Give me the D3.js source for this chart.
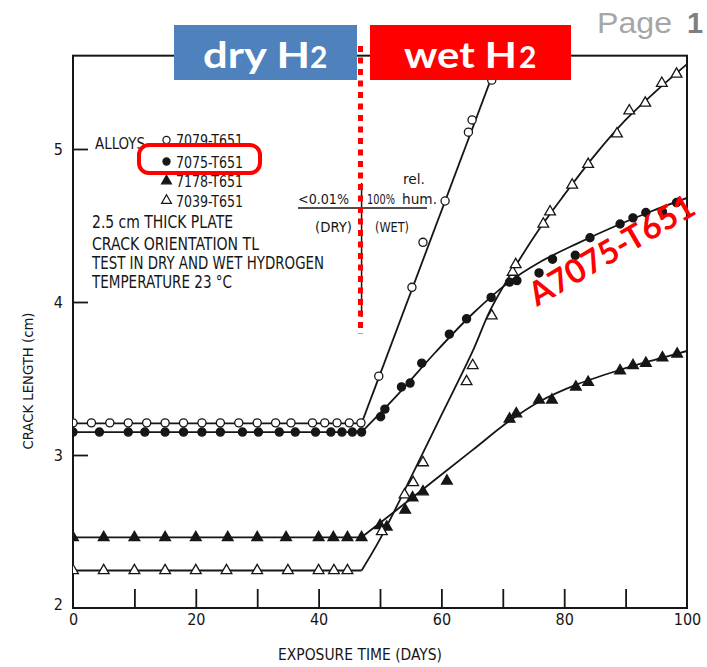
<!DOCTYPE html>
<html>
<head>
<meta charset="utf-8">
<script src="https://cdn.jsdelivr.net/npm/d3@7"></script>
<style>
  body { margin: 0; background: #fff; }
  svg { display: block; }
</style>
</head>
<body>
<svg id="chart" width="707" height="667"></svg>
<script>
// ---- data ----
const xLabelTicks = [0, 20, 40, 60, 80, 100]
const xMinorTicks = [10, 20, 30, 40, 50, 60, 70, 80, 90]
const yLabelTicks = [2, 3, 4, 5]
const yMinorTicks = [3, 4, 5]

const alloyNames = ['7079-T651', '7075-T651', '7178-T651', '7039-T651']
const noteLines = ['2.5 cm  THICK PLATE', 'CRACK ORIENTATION TL', 'TEST IN DRY AND WET HYDROGEN', 'TEMPERATURE 23 \u00B0C']

// [days, crack length cm]
const pts7079 = [[0, 3.21], [3, 3.21], [6, 3.21], [9, 3.21], [12, 3.21], [15, 3.21], [18, 3.21], [21, 3.21],
  [24, 3.21], [27, 3.21], [30, 3.21], [33, 3.21], [35.5, 3.21], [39, 3.21], [41, 3.21], [43, 3.21], [45, 3.21],
  [46.9, 3.21], [49.8, 3.515], [55.2, 4.096], [57.0, 4.39], [60.6, 4.66], [64.4, 5.11], [65.0, 5.19], [68.2, 5.45]]
const pts7075 = [[0, 3.15], [4.3, 3.15], [9, 3.15], [11.7, 3.15], [15, 3.15], [18, 3.15], [21, 3.15], [24, 3.15],
  [27.6, 3.15], [30.2, 3.15], [33.6, 3.15], [36.2, 3.15], [39.5, 3.15], [42, 3.15], [43.8, 3.15], [45.5, 3.15],
  [47, 3.15], [50.1, 3.25], [50.8, 3.30], [53.5, 3.445], [54.9, 3.47], [56.8, 3.60], [61.3, 3.79], [64.1, 3.89],
  [68.1, 4.03], [71.1, 4.13], [72.3, 4.14], [75.9, 4.19], [78.1, 4.28], [81.8, 4.305], [84.2, 4.42], [89.1, 4.51],
  [91.2, 4.55], [93.3, 4.585], [96.0, 4.59], [98.3, 4.65]]
const pts7178 = [[0, 2.46], [5, 2.46], [10, 2.46], [15, 2.46], [20, 2.46], [25.2, 2.46], [30, 2.46], [34.7, 2.46],
  [40, 2.46], [42.4, 2.46], [44.7, 2.46], [47, 2.46], [50, 2.54], [51.1, 2.53], [54.1, 2.64], [55.3, 2.72],
  [57.0, 2.76], [60.9, 2.83], [71.1, 3.235], [72.2, 3.27], [75.9, 3.36], [78.0, 3.36], [81.9, 3.445], [83.9, 3.475],
  [89.1, 3.55], [91.2, 3.585], [93.3, 3.60], [96.0, 3.635], [98.4, 3.66]]
const pts7039 = [[0, 2.245], [5, 2.245], [10, 2.245], [15, 2.245], [20, 2.245], [25, 2.245], [30, 2.245], [35, 2.245],
  [40, 2.245], [42.5, 2.245], [44.7, 2.245], [50.3, 2.50], [54.0, 2.74], [55.4, 2.82], [57.0, 2.95], [64.1, 3.48],
  [65.1, 3.585], [68.2, 3.91], [71.6, 4.195], [72.1, 4.245], [76.6, 4.51], [77.7, 4.59], [81.3, 4.765], [83.9, 4.90],
  [88.6, 5.10], [90.6, 5.25], [93.2, 5.30], [95.9, 5.43], [98.3, 5.49]]

// hand-drawn fit curves of the original (first point = flat part start)
const fit7079 = [[0, 3.207], [47, 3.207], [69.6, 5.62]]
const fit7075 = [[0, 3.15], [47, 3.15], [53, 3.4], [59, 3.67], [65, 3.92], [71, 4.13], [76, 4.26],
  [82, 4.38], [88, 4.49], [94, 4.59], [100, 4.68]]
const fit7178 = [[0, 2.462], [47, 2.462], [53, 2.65], [59, 2.84], [65, 3.03], [71, 3.22], [76, 3.35],
  [82, 3.46], [89, 3.555], [95, 3.625], [100, 3.68]]
const fit7039 = [[0, 2.245], [47, 2.245], [50, 2.45], [55, 2.85], [60, 3.26], [65, 3.67], [68, 3.95], [72, 4.23],
  [76, 4.48], [80, 4.7], [85, 4.96], [90, 5.19], [95, 5.38], [100, 5.555]]

const switchDay = 47

// ---- layout ----
const svg = d3.select('#chart')
const x = d3.scaleLinear().domain([0, 100]).range([73, 687])
const y = d3.scaleLinear().domain([2, 5]).range([608, 149])
const yMax = 5.61
const ink = '#161616'
const scanFont = "'Liberation Sans Narrow', 'DejaVu Sans Condensed', 'Liberation Sans', sans-serif"

svg.append('defs').append('clipPath').attr('id', 'plotclip')
  .append('rect')
  .attr('x', x(0)).attr('y', y(yMax))
  .attr('width', x(100) - x(0)).attr('height', y(2) - y(yMax))

// frame
svg.append('rect')
  .attr('x', x(0)).attr('y', y(yMax))
  .attr('width', x(100) - x(0)).attr('height', y(2) - y(yMax))
  .attr('fill', 'none').attr('stroke', ink).attr('stroke-width', 2)

// inward ticks
const xTickG = svg.append('g').attr('transform', `translate(0,${y(2)})`)
  .call(d3.axisTop(x).tickValues(xMinorTicks).tickSize(19).tickFormat(''))
const yTickG = svg.append('g').attr('transform', `translate(${x(0)},0)`)
  .call(d3.axisRight(y).tickValues(yMinorTicks).tickSize(15).tickFormat(''))

// labels
const xLabG = svg.append('g').attr('transform', `translate(0,${y(2)})`)
  .call(d3.axisBottom(x).tickValues(xLabelTicks).tickSize(0).tickPadding(6).tickFormat(d3.format('d')))
const yLabG = svg.append('g').attr('transform', `translate(${x(0)},0)`)
  .call(d3.axisLeft(y).tickValues(yLabelTicks).tickSize(0).tickPadding(10).tickFormat(d3.format('d')))

for (const g of [xTickG, yTickG, xLabG, yLabG]) {
  g.select('.domain').remove()
  g.selectAll('line').attr('stroke', ink).attr('stroke-width', 1.8)
  g.selectAll('text').attr('fill', ink).style('font-family', scanFont).style('font-size', '16px')
}
yLabG.selectAll('text').attr('dy', (d) => d === 2 ? '0.1em' : '0.32em')

svg.append('text')
  .attr('x', 360).attr('y', 660)
  .attr('text-anchor', 'middle')
  .attr('textLength', 164).attr('lengthAdjust', 'spacingAndGlyphs')
  .style('font-family', scanFont).style('font-size', '15px').attr('fill', ink)
  .text('EXPOSURE TIME (DAYS)')

svg.append('text')
  .attr('transform', 'translate(33,381) rotate(-90)')
  .attr('text-anchor', 'middle')
  .attr('textLength', 137).attr('lengthAdjust', 'spacingAndGlyphs')
  .style('font-family', scanFont).style('font-size', '14px').attr('fill', ink)
  .text('CRACK LENGTH (cm)')

// dry/wet divider of the original figure
svg.append('line')
  .attr('x1', x(switchDay)).attr('x2', x(switchDay))
  .attr('y1', 183).attr('y2', 317)
  .attr('stroke', ink).attr('stroke-width', 1.5)

// ---- fitted curves ----
const plot = svg.append('g').attr('clip-path', 'url(#plotclip)')
const flat = d3.line().x(d => x(d[0])).y(d => y(d[1]))
const smooth = d3.line().x(d => x(d[0])).y(d => y(d[1])).curve(d3.curveCatmullRom.alpha(0.5))

for (const fit of [fit7079, fit7075, fit7178, fit7039]) {
  plot.append('path').attr('d', flat(fit.slice(0, 2)))
    .attr('fill', 'none').attr('stroke', ink).attr('stroke-width', 1.8)
  plot.append('path').attr('d', smooth(fit.slice(1)))
    .attr('fill', 'none').attr('stroke', ink).attr('stroke-width', 1.8)
}

// ---- markers ----
const symCircle = d3.symbol().type(d3.symbolCircle).size(52)
const symTri = d3.symbol().type(d3.symbolTriangle).size(50)
const series = [
  { pts: pts7079, sym: symCircle, fill: '#fff' },
  { pts: pts7075, sym: symCircle, fill: ink },
  { pts: pts7178, sym: symTri, fill: ink },
  { pts: pts7039, sym: symTri, fill: '#fff' }
]
for (const s of series) {
  plot.append('g').selectAll('path')
    .data(s.pts)
    .join('path')
    .attr('transform', d => `translate(${x(d[0])},${y(d[1])})`)
    .attr('d', s.sym())
    .attr('fill', s.fill)
    .attr('stroke', ink).attr('stroke-width', 1.3)
}

// ---- legend / notes block ----
const textStyle = (sel, size) => sel.style('font-family', scanFont).style('font-size', size + 'px').attr('fill', ink)

textStyle(svg.append('text').attr('x', 95).attr('y', 149)
  .attr('textLength', 50).attr('lengthAdjust', 'spacingAndGlyphs').text('ALLOYS'), 16)

const legendRowsY = [140, 161.5, 181, 200.5]
const legendFills = ['#fff', ink, ink, '#fff']
const legendSyms = [d3.symbol().type(d3.symbolCircle).size(40), d3.symbol().type(d3.symbolCircle).size(40),
  d3.symbol().type(d3.symbolTriangle).size(42), d3.symbol().type(d3.symbolTriangle).size(42)]
alloyNames.forEach((name, i) => {
  svg.append('path')
    .attr('transform', `translate(166.5,${legendRowsY[i]})`)
    .attr('d', legendSyms[i]())
    .attr('fill', legendFills[i]).attr('stroke', ink).attr('stroke-width', 1.2)
  textStyle(svg.append('text').attr('x', 176).attr('y', legendRowsY[i] + 6)
    .attr('textLength', 67).attr('lengthAdjust', 'spacingAndGlyphs').text(name), 16)
})

const noteY = [228, 250, 269, 288]
const noteW = [141, 167, 232, 140]
noteLines.forEach((t, i) => {
  textStyle(svg.append('text').attr('x', 92).attr('y', noteY[i])
    .attr('textLength', noteW[i]).attr('lengthAdjust', 'spacingAndGlyphs').text(t), 17)
})

// red highlight around 7075-T651
svg.append('rect')
  .attr('x', 139).attr('y', 145).attr('width', 121).attr('height', 28).attr('rx', 10)
  .attr('fill', 'none').attr('stroke', '#f00').attr('stroke-width', 4)

// humidity annotation
const humNotes = [
  { t: '<0.01%', x: 298, y: 204, w: 51 },
  { t: '100%', x: 367, y: 204, w: 28 },
  { t: 'hum.', x: 402, y: 204, w: 35 },
  { t: 'rel.', x: 403, y: 184, w: 22 },
  { t: '(DRY)', x: 315, y: 232, w: 37 },
  { t: '(WET)', x: 375, y: 232, w: 34 }
]
humNotes.forEach(n => {
  textStyle(svg.append('text').attr('x', n.x).attr('y', n.y)
    .attr('textLength', n.w).attr('lengthAdjust', 'spacingAndGlyphs').text(n.t), 14)
})
svg.append('line').attr('x1', 298).attr('x2', 427).attr('y1', 208).attr('y2', 208)
  .attr('stroke', ink).attr('stroke-width', 1.5)

// red dotted switch marker
svg.append('line')
  .attr('x1', 360.5).attr('x2', 360.5).attr('y1', 46).attr('y2', 334)
  .attr('stroke', '#f00').attr('stroke-width', 5).attr('stroke-dasharray', '6 5.5')

// ---- slide overlays ----
const boldFont = "Lato, 'Open Sans', sans-serif"
svg.append('rect').attr('x', 174).attr('y', 25).attr('width', 183).attr('height', 55).attr('fill', '#4f81bd')
svg.append('rect').attr('x', 370).attr('y', 25).attr('width', 201).attr('height', 55).attr('fill', '#ff0000')

const boxText = (x0, w, main, sub, subX) => {
  svg.append('text').attr('x', x0).attr('y', 68)
    .attr('textLength', w).attr('lengthAdjust', 'spacingAndGlyphs')
    .style('font-family', boldFont).style('font-weight', 700).style('font-size', '36px')
    .attr('fill', '#fff').text(main)
  svg.append('text').attr('x', subX).attr('y', 68)
    .style('font-family', boldFont).style('font-weight', 700).style('font-size', '30px')
    .attr('fill', '#fff').text(sub)
}
boxText(203, 107, 'dry H', '2', 310)
boxText(404, 113, 'wet H', '2', 519)

svg.append('text').attr('x', 597).attr('y', 33)
  .attr('textLength', 75).attr('lengthAdjust', 'spacingAndGlyphs')
  .style('font-family', "'Liberation Sans', Arial, sans-serif").style('font-size', '29px')
  .attr('fill', '#a6a6a6').text('Page')
svg.append('text').attr('x', 687).attr('y', 33)
  .style('font-family', "'Liberation Sans', Arial, sans-serif").style('font-size', '29px').style('font-weight', 700)
  .attr('fill', '#7f7f7f').text('1')

svg.append('text')
  .attr('transform', 'translate(537,307) rotate(-30.3)')
  .attr('textLength', 186).attr('lengthAdjust', 'spacingAndGlyphs')
  .style('font-family', boldFont).style('font-weight', 700).style('font-size', '33px')
  .attr('fill', '#ff0000').text('A7075-T651')
</script>
</body>
</html>
